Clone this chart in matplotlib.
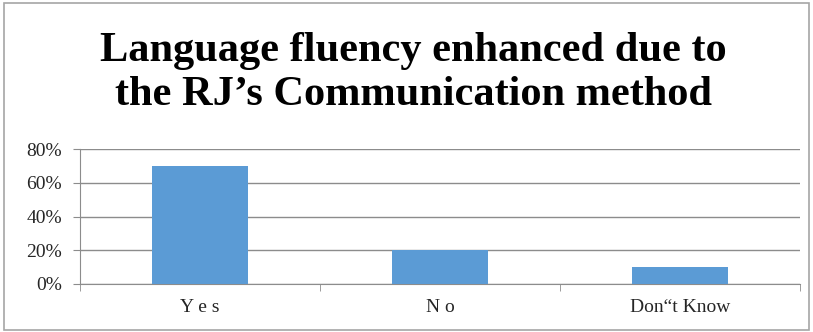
import matplotlib.pyplot as plt
from matplotlib.patches import Rectangle
from matplotlib.ticker import FixedLocator, PercentFormatter

categories = ["Y e s", "N o", "Don\u201ct Know"]
shares = [70, 20, 10]
y_ticks = [0, 20, 40, 60, 80]

W, H = 813, 332
fig = plt.figure(figsize=(W / 100, H / 100), dpi=100)
fig.patch.set_facecolor("white")

# chart border
fig.patches.append(Rectangle((4 / W, 2 / H), (W - 8) / W, (H - 5) / H,
                             transform=fig.transFigure, fill=False,
                             edgecolor="#a6a6a6", linewidth=1.2))

fig.text(0.508, 1 - 73 / H, "Language fluency enhanced due to\nthe RJ\u2019s Communication method",
         ha="center", va="center", family="Liberation Serif", weight="bold",
         fontsize=30.5, linespacing=1.19)

ax = fig.add_axes([80 / W, (H - 284) / H, 720 / W, 135 / H])
x = range(len(categories))
ax.bar(x, shares, width=0.4, color="#5b9bd5", zorder=3)
ax.set_xlim(-0.5, 2.5)
ax.set_ylim(0, 80)
ax.set_yticks(y_ticks)
ax.yaxis.set_major_formatter(PercentFormatter(decimals=0))
ax.yaxis.grid(True, color="#8c8c8c", linewidth=1, zorder=0)

ax.set_xticks(list(x))
ax.set_xticklabels(categories)
ax.xaxis.set_minor_locator(FixedLocator([-0.5, 0.5, 1.5, 2.5]))
ax.tick_params(axis="x", which="major", length=0, pad=11)
ax.tick_params(axis="x", which="minor", length=5, color="#8c8c8c", direction="out")
ax.tick_params(axis="y", length=5, color="#8c8c8c", pad=8)

for lbl in ax.get_xticklabels() + ax.get_yticklabels():
    lbl.set_family("Liberation Serif")
    lbl.set_fontsize(14)
    lbl.set_color("#262626")

for side in ["top", "right"]:
    ax.spines[side].set_visible(False)
for side in ["left", "bottom"]:
    ax.spines[side].set_color("#8c8c8c")

fig.savefig("out.png", dpi=100)
